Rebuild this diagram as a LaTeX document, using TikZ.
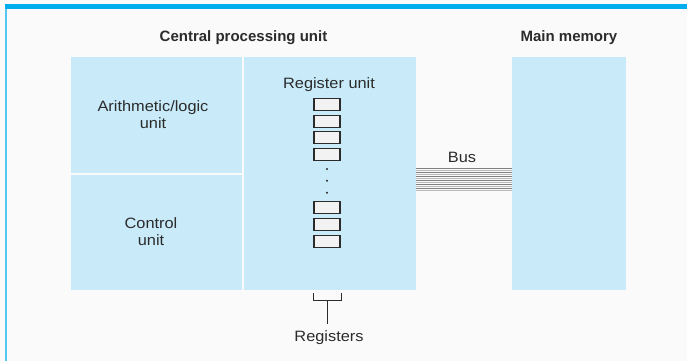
\documentclass[tikz,border=0pt]{standalone}
\usepackage{fontspec}
\setmainfont{Liberation Sans}[FakeStretch=1.09]
\newfontfamily\titlefont{Liberation Sans}
\definecolor{bgc}{HTML}{FAFAFA}
\definecolor{barc}{HTML}{00AEEF}
\definecolor{sidec}{HTML}{55C8F2}
\definecolor{boxc}{HTML}{C8EAF9}
\definecolor{txtc}{HTML}{2B2B2B}
\definecolor{regc}{HTML}{F2F2F2}
\definecolor{busd}{HTML}{808080}
\definecolor{busl}{HTML}{B8B8B8}
\begin{document}
\begin{tikzpicture}[x=1pt,y=-1pt,
  unitbox/.style={fill=boxc,draw=none,inner sep=0pt},
  title/.style={text=txtc,font=\titlefont\bfseries\fontsize{15}{17}\selectfont,inner sep=0pt},
  lbl/.style={text=txtc,font=\fontsize{15}{17}\selectfont,inner sep=0pt,align=center},
  regbox/.style={draw=txtc,fill=regc,line width=1.1pt,minimum width=26pt,minimum height=12pt,inner sep=0pt},
  dotm/.style={circle,fill=txtc,inner sep=0pt,minimum size=2.2pt},
  bracket/.style={draw=txtc,line width=0.9pt}]
\useasboundingbox (0,0) rectangle (687,361);
\fill[bgc] (0,0) rectangle (687,361);
\fill[barc] (5,4) rectangle (687,9);
\fill[sidec] (5,9) rectangle (7,361);
% units
\node[unitbox,minimum width=171pt,minimum height=116pt] (alu) at (156.5,115) {};
\node[unitbox,minimum width=171pt,minimum height=115pt] (cu) at (156.5,232.5) {};
\node[unitbox,minimum width=172pt,minimum height=233pt] (ru) at (330,173.5) {};
\node[unitbox,minimum width=114pt,minimum height=233pt] (mm) at (569,173.5) {};
\node[lbl] (alut) at (153,115) {Arithmetic/logic\\unit};
\node[lbl] (cut) at (151,232) {Control\\unit};
% titles
\node[title] (cput) at (243.5,38) {Central processing unit};
\node[title] (mmt) at (569,38) {Main memory};
\node[lbl] (rut) at (329,85) {Register unit};
% registers
\foreach \i/\y in {1/104.5,2/121.2,3/137.9,4/154.6,5/207.9,6/224.6,7/241.3}
  \node[regbox] (r\i) at (327,\y) {};
\foreach \i/\y in {1/169,2/180.7,3/192.7}
  \node[dotm] (d\i) at (327,\y) {};
% bus
\foreach \k in {0,...,11} {
  \pgfmathsetmacro{\yy}{168+2*\k}
  \pgfmathtruncatemacro{\odd}{mod(\k,2)}
  \ifnum\odd=0
    \draw[busd,line width=1pt] (ru.east |- 0,\yy) -- (mm.west |- 0,\yy);
  \else
    \draw[busl,line width=1pt] (ru.east |- 0,\yy) -- (mm.west |- 0,\yy);
  \fi
}
\node[lbl] (bust) at (462,157) {Bus};
% registers bracket
\node[lbl] (regt) at (329,338) {Registers};
\coordinate (bl) at (313.5,293);
\coordinate (br) at (341,293);
\coordinate (bm) at (327,300.5);
\coordinate (stem) at (327,324);
\draw[bracket] (bl) -- (bl |- bm) -- (br |- bm) -- (br);
\draw[bracket] (bm) -- (stem);
\end{tikzpicture}
\end{document}
